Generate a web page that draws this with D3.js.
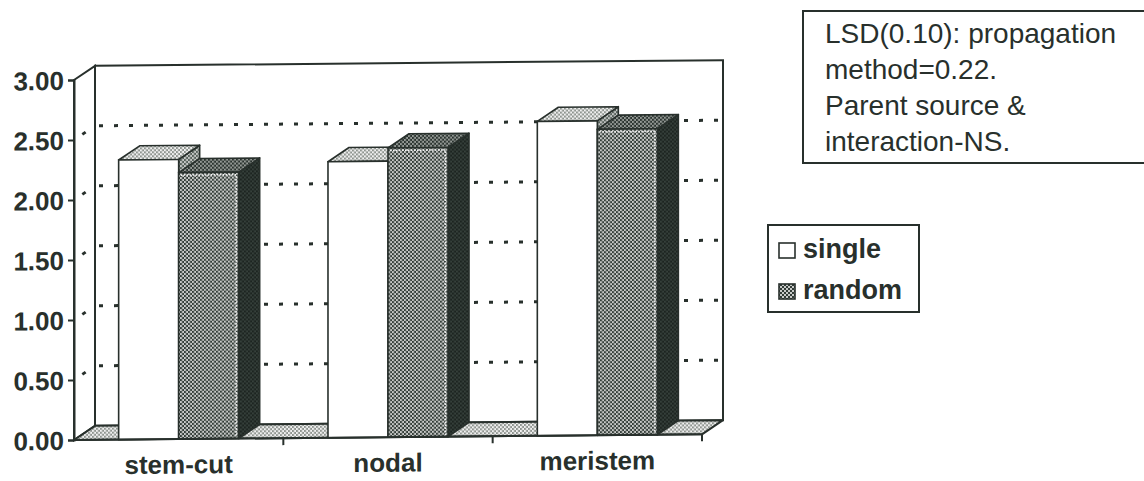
<!DOCTYPE html>
<html>
<head>
<meta charset="utf-8">
<script src="https://cdn.jsdelivr.net/npm/d3@7"></script>
<style>
  html, body { margin: 0; padding: 0; background: #ffffff; }
  svg { display: block; }
</style>
</head>
<body>
<svg id="chart" width="1144" height="481"></svg>
<script>
// ---- data ----
const categories = ["stem-cut", "nodal", "meristem"];
const seriesNames = ["single", "random"];
const singleValues = [2.33, 2.30, 2.62];
const randomValues = [2.22, 2.41, 2.55];
const yTickValues = [0, 0.5, 1.0, 1.5, 2.0, 2.5, 3.0];
const noteLines = ["LSD(0.10): propagation", "method=0.22.", "Parent source &", "interaction-NS."];

// ---- layout ----
const INK = "#28302c";
const X0 = 74, X1 = 702, Y0 = 440, Y1 = 80;
const DX = 21, DY = -14;
const SKEW = -0.009;

const svg = d3.select("#chart");
const defs = svg.append("defs");

function checker(id, a, b, size) {
  const s = size || 2;
  const p = defs.append("pattern").attr("id", id).attr("patternUnits", "userSpaceOnUse")
    .attr("width", s * 2).attr("height", s * 2);
  p.append("rect").attr("width", s * 2).attr("height", s * 2).attr("fill", a);
  p.append("rect").attr("x", 0).attr("y", 0).attr("width", s).attr("height", s).attr("fill", b);
  p.append("rect").attr("x", s).attr("y", s).attr("width", s).attr("height", s).attr("fill", b);
}
checker("pLight", "#f2f2f2", "#8e948f");
checker("pSingleSide", "#c4c6c4", "#55605a");
checker("pRandFront", "#c8cac8", "#323c37");
checker("pRandTop", "#959a96", "#29322e");
checker("pRandSide", "#36403b", "#1c2420");

const x = d3.scaleBand().domain(categories).range([X0, X1]).paddingInner(0).paddingOuter(0);
const xs = d3.scaleBand().domain(seriesNames).range([0, x.bandwidth()]).paddingInner(0).paddingOuter(0.744);
const y = d3.scaleLinear().domain([0, 3]).range([Y0, Y1]);

const g = svg.append("g").attr("transform", `matrix(1,${SKEW},0,1,0,${-SKEW * X0})`);

// walls
const backTop = y(3) + DY, backBot = y(0) + DY;
g.append("polygon")
  .attr("points", [[X0, y(3)], [X0 + DX, backTop], [X0 + DX, backBot], [X0, y(0)]].join(" "))
  .attr("fill", "#fff").attr("stroke", INK).attr("stroke-width", 2);
g.append("rect").attr("x", X0 + DX).attr("y", backTop).attr("width", X1 - X0)
  .attr("height", backBot - backTop).attr("fill", "#fff").attr("stroke", INK).attr("stroke-width", 2);

// gridlines (side wall + back wall)
const grid = yTickValues.filter(v => v > 0 && v < 3);
g.selectAll("line.gside").data(grid).join("line").attr("class", "gside")
  .attr("x1", X0).attr("y1", d => y(d)).attr("x2", X0 + DX).attr("y2", d => y(d) + DY)
  .attr("stroke", INK).attr("stroke-width", 3).attr("stroke-dasharray", "4,11").attr("stroke-dashoffset", -10);
g.selectAll("line.gback").data(grid).join("line").attr("class", "gback")
  .attr("x1", X0 + DX).attr("y1", d => y(d) + DY).attr("x2", X1 + DX).attr("y2", d => y(d) + DY)
  .attr("stroke", INK).attr("stroke-width", 3).attr("stroke-dasharray", "4,11").attr("stroke-dashoffset", -4);

// floor
g.append("polygon")
  .attr("points", [[X0, y(0)], [X1, y(0)], [X1 + DX, backBot], [X0 + DX, backBot]].join(" "))
  .attr("fill", "url(#pLight)").attr("stroke", INK).attr("stroke-width", 2).attr("stroke-linejoin", "round");

// bars
const styles = {
  single: { front: "#ffffff", top: "url(#pLight)", side: "url(#pSingleSide)" },
  random: { front: "url(#pRandFront)", top: "url(#pRandTop)", side: "url(#pRandSide)" }
};
const bars = [];
categories.forEach((c, i) => {
  bars.push({ cat: c, s: "single", v: singleValues[i] });
  bars.push({ cat: c, s: "random", v: randomValues[i] });
});
const barG = g.append("g");
bars.forEach(b => {
  const bx = x(b.cat) + xs(b.s), w = xs.bandwidth(), yt = y(b.v), yb = y(0);
  const st = styles[b.s];
  const grp = barG.append("g");
  grp.append("polygon")
    .attr("points", [[bx + w, yt], [bx + w + DX, yt + DY], [bx + w + DX, yb + DY], [bx + w, yb]].join(" "))
    .attr("fill", st.side).attr("stroke", INK).attr("stroke-width", 1.6).attr("stroke-linejoin", "round");
  grp.append("polygon")
    .attr("points", [[bx, yt], [bx + w, yt], [bx + w + DX, yt + DY], [bx + DX, yt + DY]].join(" "))
    .attr("fill", st.top).attr("stroke", INK).attr("stroke-width", 1.6).attr("stroke-linejoin", "round");
  grp.append("rect").attr("x", bx).attr("y", yt).attr("width", w).attr("height", yb - yt)
    .attr("fill", st.front).attr("stroke", INK).attr("stroke-width", 1.6);
  if (b.s === "random") {
    grp.append("path")
      .attr("d", `M${bx + 2},${yt + 2.5}H${bx + w - 2.5}V${yb - 1}`)
      .attr("fill", "none").attr("stroke", "#f4f4f4").attr("stroke-width", 1.5)
      .attr("stroke-dasharray", "1.5,1.5");
  }
});

// front floor edge drawn over bars' bottom
g.append("line").attr("x1", X0).attr("y1", y(0)).attr("x2", X1).attr("y2", y(0))
  .attr("stroke", INK).attr("stroke-width", 2);

// y axis
const yAxis = d3.axisLeft(y).tickValues(yTickValues).tickFormat(d3.format(".2f")).tickSize(6).tickPadding(4);
const ya = g.append("g").attr("transform", `translate(${X0},0)`).call(yAxis);
ya.select(".domain").attr("stroke", INK).attr("stroke-width", 2);
ya.selectAll(".tick line").attr("stroke", INK).attr("stroke-width", 2);
ya.selectAll(".tick text").attr("fill", INK).attr("font-family", "'Liberation Sans', Arial, sans-serif")
  .attr("font-weight", "bold").attr("font-size", 26).attr("dy", "0.36em");

// x axis
const xAxis = d3.axisBottom(x).tickSize(0).tickPadding(16);
const xa = g.append("g").attr("transform", `translate(0,${Y0})`).call(xAxis);
xa.select(".domain").remove();
xa.selectAll(".tick text").attr("fill", INK).attr("font-family", "'Liberation Sans', Arial, sans-serif")
  .attr("font-weight", "bold").attr("font-size", 26).attr("dy", "0.71em");
g.selectAll("line.xtick").data(categories).join("line").attr("class", "xtick")
  .attr("x1", d => x(d) + x.bandwidth()).attr("x2", d => x(d) + x.bandwidth())
  .attr("y1", Y0).attr("y2", Y0 + 7).attr("stroke", INK).attr("stroke-width", 2);

// note box
const note = svg.append("g");
note.append("rect").attr("x", 803).attr("y", 11).attr("width", 400).attr("height", 152)
  .attr("fill", "#fff").attr("stroke", INK).attr("stroke-width", 2);
note.selectAll("text").data(noteLines).join("text")
  .attr("x", 825).attr("y", (d, i) => 43 + i * 36)
  .attr("fill", INK).attr("font-family", "'Liberation Sans', Arial, sans-serif").attr("font-size", 28)
  .text(d => d);

// legend
const leg = svg.append("g");
leg.append("rect").attr("x", 768).attr("y", 225).attr("width", 151).attr("height", 87)
  .attr("fill", "#fff").attr("stroke", INK).attr("stroke-width", 2);
const legFill = { single: "#ffffff", random: "url(#pRandFront)" };
seriesNames.forEach((s, i) => {
  const cy = 250 + i * 41;
  leg.append("rect").attr("x", 779).attr("y", cy - 7).attr("width", 16).attr("height", 15)
    .attr("fill", legFill[s]).attr("stroke", INK).attr("stroke-width", 1.6);
  leg.append("text").attr("x", 803).attr("y", cy + 8)
    .attr("fill", INK).attr("font-family", "'Liberation Sans', Arial, sans-serif")
    .attr("font-weight", "bold").attr("font-size", 27).text(s);
});
</script>
</body>
</html>
